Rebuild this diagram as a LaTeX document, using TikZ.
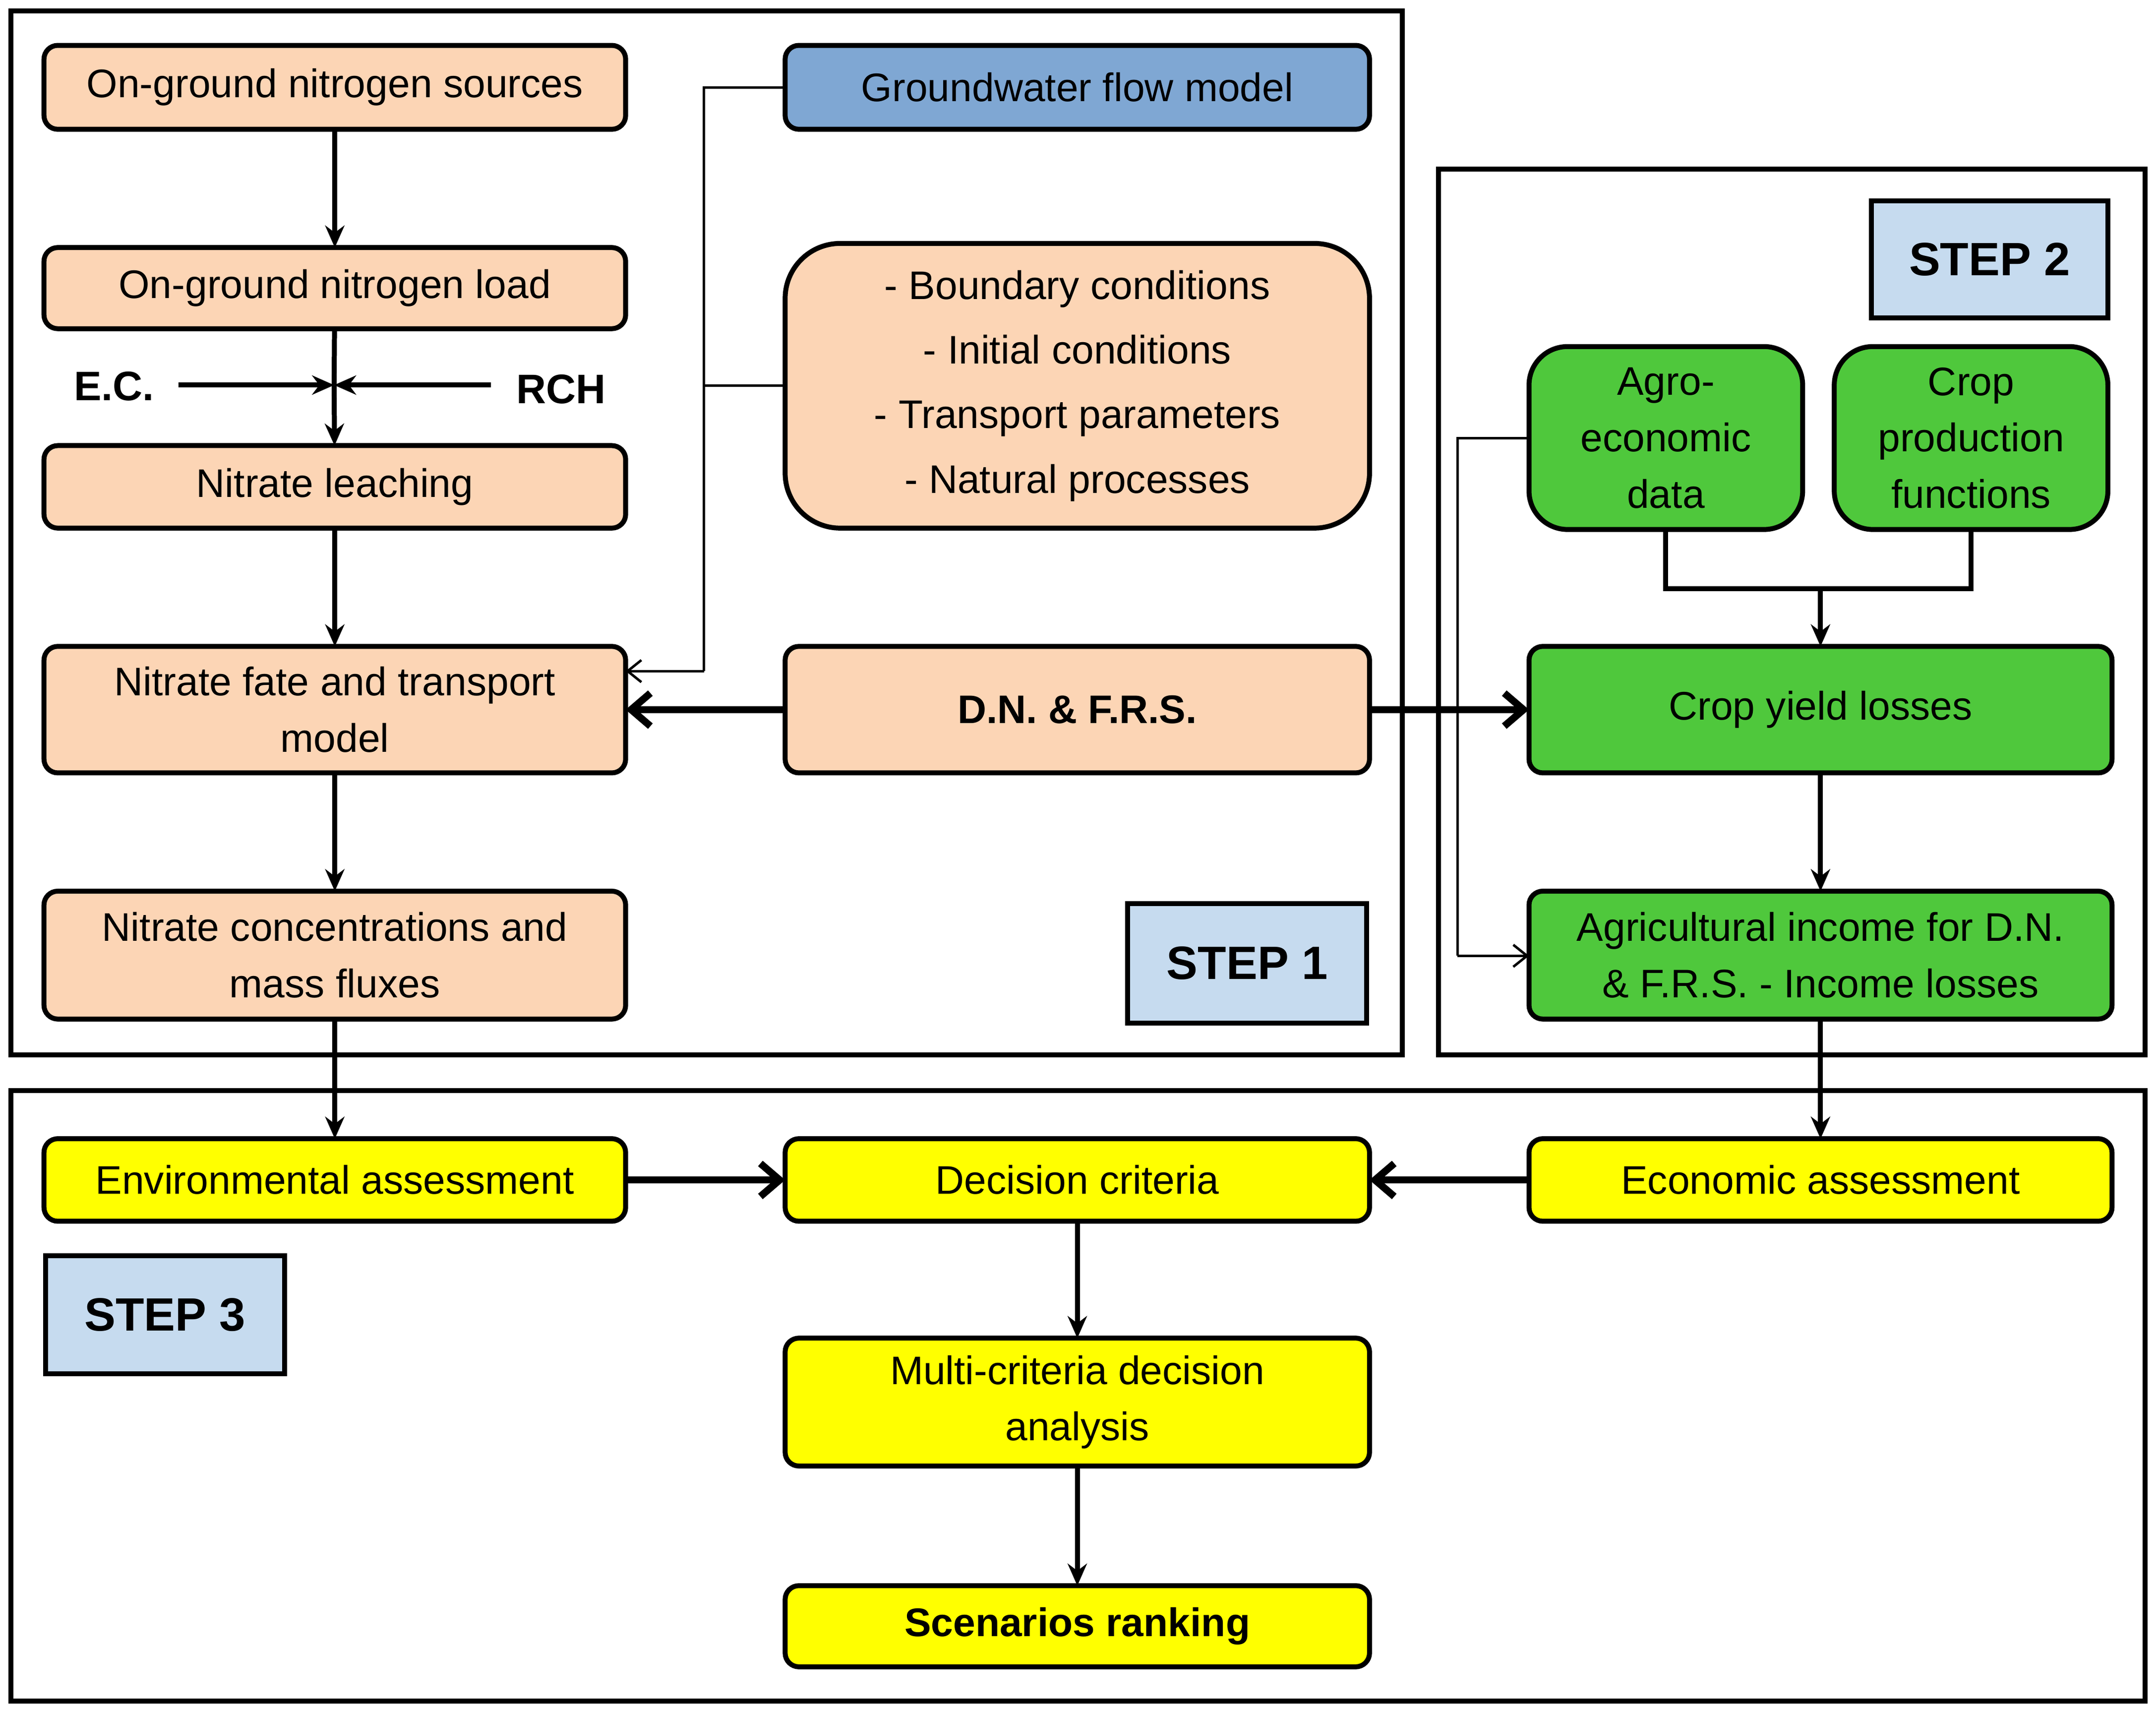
\documentclass[tikz,border=0pt]{standalone}
\usepackage{fontspec}
\setmainfont{Liberation Sans}
\usetikzlibrary{arrows.meta}
\definecolor{peach}{HTML}{FCD5B5}
\definecolor{gwblue}{HTML}{7FA7D3}
\definecolor{grn}{HTML}{4FC83C}
\definecolor{ylw}{HTML}{FFFF00}
\definecolor{stepc}{HTML}{C6DBEF}
\newcommand\mybox[7]{\node[#2, minimum width={(#5-#3)*0.5pt}, minimum height={(#6-#4)*0.5pt}] (#1) at ({(#3+#5)/2},{(#4+#6)/2}) {#7};}
\begin{document}
\begin{tikzpicture}[x=0.5pt,y=-0.5pt,
 base/.style={draw=black,line width=1.8pt,rounded corners=5pt,inner sep=0pt,outer sep=0pt,align=center,font=\fontsize{14.5}{20.5}\selectfont},
 pbox/.style={base,fill=peach},
 gbox/.style={base,fill=grn},
 ybox/.style={base,fill=ylw},
 stepbox/.style={draw=black,line width=1.8pt,fill=stepc,inner sep=0pt,outer sep=0pt,font=\fontsize{17}{20}\selectfont\bfseries},
 frame/.style={draw=black,line width=1.8pt},
 arr/.style={-{Stealth[length=8pt,width=7pt]},line width=1.8pt},
 thick arr/.style={-{Straight Barb[length=7pt,width=12pt]},line width=2.6pt},
 thin arr/.style={-{Straight Barb[length=5pt,width=8pt]},line width=0.9pt},
 ln/.style={line width=1.8pt}]
\useasboundingbox (0,0) rectangle (1568,1244);
\draw[frame] (8,8) rectangle (1020,767);
\draw[frame] (1046,123) rectangle (1560,767);
\draw[frame] (8,793) rectangle (1560,1237);
% step 1
\mybox{src}{pbox}{32}{33}{455}{94}{On-ground nitrogen sources}
\mybox{load}{pbox}{32}{180}{455}{239}{On-ground nitrogen load}
\mybox{leach}{pbox}{32}{324}{455}{384}{Nitrate leaching}
\mybox{fate}{pbox}{32}{470}{455}{562}{Nitrate fate and transport\\model}
\mybox{conc}{pbox}{32}{648}{455}{741}{Nitrate concentrations and\\mass fluxes}
\mybox{gw}{base,fill=gwblue}{571}{33}{996}{94}{Groundwater flow model}
\mybox{cond}{pbox,rounded corners=20pt,font=\fontsize{14.5}{23.5}\selectfont}{571}{177}{996}{384}{- Boundary conditions\\- Initial conditions\\- Transport parameters\\- Natural processes}
\mybox{dn}{pbox}{571}{470}{996}{562}{\textbf{D.N. \& F.R.S.}}
\mybox{s1}{stepbox}{820}{657}{994}{744}{STEP 1}
\node[font=\fontsize{15}{18}\selectfont\bfseries] (ec) at (83,281) {E.C.};
\node[font=\fontsize{15}{18}\selectfont\bfseries] (rch) at (408,283) {RCH};
\coordinate (ecm) at (243,280);
\coordinate (ecl) at (130,280);
\coordinate (rchr) at (357,280);
\draw[arr] (src) -- (load);
\draw[ln] (load) -- (ecm);
\draw[arr] (ecm) -- (leach);
\draw[arr] (ecl) -- (ecm);
\draw[arr] (rchr) -- (ecm);
\draw[arr] (leach) -- (fate);
\draw[arr] (fate) -- (conc);
\coordinate (j2) at (512,488);
\draw[line width=0.9pt] (gw.west) -- (gw.west -| j2) -- (j2);
\draw[line width=0.9pt] (cond.west) -- (cond.west -| j2);
\draw[thin arr] (j2) -- (j2 -| fate.east);
\draw[thick arr] (dn) -- (fate);
% step 2
\mybox{s2}{stepbox}{1361}{146}{1533}{231}{STEP 2}
\mybox{agro}{gbox,rounded corners=14pt}{1112}{252}{1311}{385}{Agro-\\economic\\data}
\mybox{cpf}{gbox,rounded corners=14pt}{1334}{252}{1533}{385}{Crop\\production\\functions}
\mybox{cyl}{gbox}{1112}{470}{1536}{562}{Crop yield losses}
\mybox{inc}{gbox}{1112}{648}{1536}{741}{Agricultural income for D.N.\\\& F.R.S. - Income losses}
\coordinate (mj) at (1324,428);
\draw[ln] (agro.south) -- (agro.south |- mj) -- (cpf.south |- mj) -- (cpf.south);
\draw[arr] (mj) -- (cyl);
\coordinate (lj) at (1060,695);
\draw[line width=0.9pt] (agro.west) -- (agro.west -| lj) -- (lj);
\draw[thin arr] (lj) -- (lj -| inc.west);
\draw[thick arr] (dn) -- (cyl);
\draw[arr] (cyl) -- (inc);
% step 3
\mybox{env}{ybox}{32}{828}{455}{888}{Environmental assessment}
\mybox{dec}{ybox}{571}{828}{996}{888}{Decision criteria}
\mybox{eco}{ybox}{1112}{828}{1536}{888}{Economic assessment}
\mybox{mcda}{ybox}{571}{973}{996}{1066}{Multi-criteria decision\\analysis}
\mybox{rank}{ybox}{571}{1153}{996}{1212}{\textbf{Scenarios ranking}}
\mybox{s3}{stepbox}{33}{913}{207}{999}{STEP 3}
\draw[arr] (conc) -- (env);
\draw[arr] (inc) -- (eco);
\draw[thick arr] (env) -- (dec);
\draw[thick arr] (eco) -- (dec);
\draw[arr] (dec) -- (mcda);
\draw[arr] (mcda) -- (rank);
\end{tikzpicture}
\end{document}
